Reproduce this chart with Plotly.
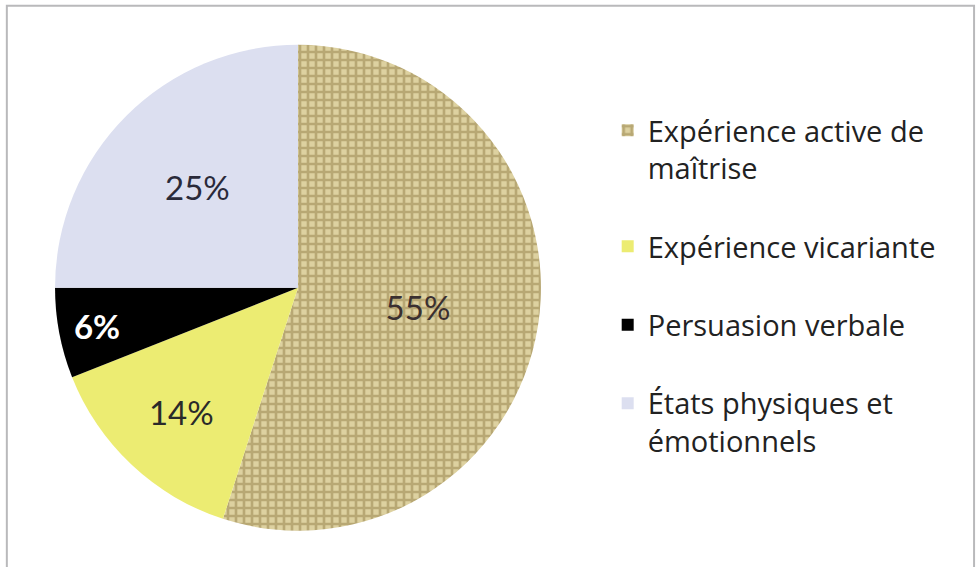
import plotly.graph_objects as go

labels = [
    "Expérience active de<br>maîtrise<br> ",
    "Expérience vicariante<br> ",
    "Persuasion verbale<br> ",
    "États physiques et<br>émotionnels",
]
values = [55, 14, 6, 25]
colors = ["#ddd1a0", "#ecec72", "#000000", "#dcdff0"]
text_colors = ["#3a3030", "#2a2a2a", "#ffffff", "#2a2a3a"]

fig = go.Figure()

fig.add_trace(
    go.Pie(
        labels=labels,
        values=values,
        sort=False,
        direction="clockwise",
        rotation=0,
        marker=dict(
            colors=colors,
            line=dict(width=0),
            # motif toile de jute uniquement sur la première part
            pattern=dict(
                shape=["+", "", "", ""],
                fgcolor="#947f47",
                bgcolor=colors,
                size=8,
                solidity=0.55,
                fillmode="overlay",
            ),
        ),
        texttemplate=["%{percent:.0%}", "%{percent:.0%}", "<b>%{percent:.0%}</b>", "%{percent:.0%}"],
        textposition="inside",
        insidetextorientation="horizontal",
        textfont=dict(family="Lato, Open Sans, sans-serif", size=33, color=text_colors),
        domain=dict(x=[0.056, 0.554], y=[0.064, 0.921]),
        hoverinfo="label+percent",
    )
)

# cadre gris autour du graphique
fig.add_shape(
    type="rect",
    xref="paper",
    yref="paper",
    x0=0.007,
    x1=0.997,
    y0=-0.02,
    y1=0.99,
    line=dict(color="#b9b9bb", width=2),
)

fig.update_layout(
    width=977,
    height=567,
    margin=dict(l=0, r=0, t=0, b=0),
    paper_bgcolor="white",
    plot_bgcolor="white",
    showlegend=True,
    legend=dict(
        x=0.622,
        y=0.815,
        xanchor="left",
        yanchor="top",
        valign="top",
        font=dict(family="Open Sans, Lato, sans-serif", size=29, color="#222222"),
        itemsizing="constant",
    ),
)

# la page html a une marge de 8px par défaut : on la retire
fig.write_html(
    "out.html",
    config={"displayModeBar": False},
    post_script="document.body.style.margin='0px';",
)
